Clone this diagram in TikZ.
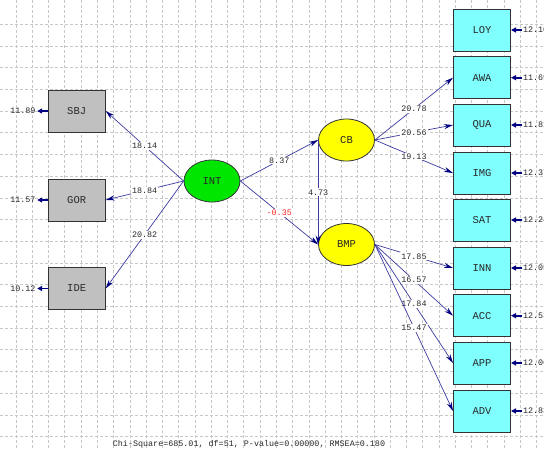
\documentclass[tikz,border=0pt]{standalone}
\usepackage{fontspec}
\setmonofont{Liberation Mono}
\usetikzlibrary{arrows.meta,shapes.geometric}
\definecolor{gridc}{RGB}{200,200,200}
\definecolor{boxgray}{RGB}{192,192,192}
\definecolor{boxcyan}{RGB}{128,255,255}
\definecolor{ellgreen}{RGB}{0,230,0}
\definecolor{ellyellow}{RGB}{255,255,0}
\definecolor{pathc}{RGB}{60,60,160}
\definecolor{tipc}{RGB}{0,0,128}
\definecolor{labc}{RGB}{40,40,40}
\definecolor{negc}{RGB}{255,40,40}
\begin{document}
\begin{tikzpicture}[x=1pt,y=-1pt,
  obs/.style={draw=black!80, line width=1pt, minimum width=57pt, minimum height=42pt, inner sep=0pt, text=labc, font=\ttfamily\fontsize{10.5}{12}\selectfont},
  xobs/.style={obs, fill=boxgray},
  yobs/.style={obs, fill=boxcyan},
  lat/.style={ellipse, draw=black!80, line width=0.8pt, minimum width=56pt, minimum height=42pt, inner sep=0pt, text=labc, font=\ttfamily\fontsize{10.5}{12}\selectfont},
  conn/.style={draw=pathc, line width=0.7pt, -{Stealth[length=9pt,width=5pt,color=tipc]}},
  coef/.style={midway, fill=white, inner sep=1pt, text=labc, font=\ttfamily\fontsize{8.4}{9}\selectfont},
  err/.style={draw=tipc, line width=1.6pt, -{Triangle[length=5pt,width=5pt]}},
  errlab/.style={inner sep=0pt, text=labc, font=\ttfamily\fontsize{8.4}{9}\selectfont},
  gridline/.style={draw=gridc, line width=0.7pt, dash pattern=on 3pt off 2pt}
]
\useasboundingbox (0,0) rectangle (544,450);
\clip (0,0) rectangle (544,450);
\fill[white] (0,0) rectangle (544,450);
% grid
\foreach \k in {0,...,32} \draw[gridline] ({16+16.27*\k},0) -- ({16+16.27*\k},450);
\foreach \k in {0,...,19} \draw[gridline] (0,{24.3+21.7*\k}) -- (544,{24.3+21.7*\k});

% left observed
\node[xobs] (SBJ) at (76.7,111) {SBJ};
\node[xobs] (GOR) at (76.7,200) {GOR};
\node[xobs] (IDE) at (76.7,288.5) {IDE};
% right observed
\node[yobs] (LOY) at (482,30) {LOY};
\node[yobs] (AWA) at (482,77.7) {AWA};
\node[yobs] (QUA) at (482,125) {QUA};
\node[yobs] (IMG) at (482,173) {IMG};
\node[yobs] (SAT) at (482,220) {SAT};
\node[yobs] (INN) at (482,268) {INN};
\node[yobs] (ACC) at (482,315.7) {ACC};
\node[yobs] (APP) at (482,363) {APP};
\node[yobs] (ADV) at (482,411) {ADV};
% latent
\node[lat, fill=ellgreen] (INT) at (212,181) {INT};
\node[lat, fill=ellyellow] (CB) at (346.5,140) {CB};
\node[lat, fill=ellyellow] (BMP) at (346.5,244.5) {BMP};

% structural / measurement paths
\draw[conn] (INT.west) -- (SBJ.east) node[coef] {18.14};
\draw[conn] (INT.west) -- (GOR.east) node[coef] {18.84};
\draw[conn] (INT.west) -- (IDE.east) node[coef] {20.82};
\draw[conn] (INT.east) -- (CB.west) node[coef] {8.37};
\draw[conn] (INT.east) -- (BMP.west) node[coef, text=negc] {-0.35};
\draw[conn] (CB.west) -- (BMP.west) node[coef] {4.73};
\draw[conn] (CB.east) -- (AWA.west) node[coef] {20.78};
\draw[conn] (CB.east) -- (QUA.west) node[coef] {20.56};
\draw[conn] (CB.east) -- (IMG.west) node[coef] {19.13};
\draw[conn] (BMP.east) -- (INN.west) node[coef] {17.85};
\draw[conn] (BMP.east) -- (ACC.west) node[coef] {16.57};
\draw[conn] (BMP.east) -- (APP.west) node[coef] {17.84};
\draw[conn] (BMP.east) -- (ADV.west) node[coef] {15.47};

% error terms left
\foreach \n/\v in {SBJ/11.89, GOR/11.57, IDE/10.12}{
  \coordinate (e\n) at ([xshift=-10.5pt]\n.west);
  \draw[err] (\n.west) -- (e\n);
  \node[errlab, anchor=east] (l\n) at ([xshift=-1.5pt]e\n) {\v};
}
% error terms right
\foreach \n/\v in {LOY/12.10, AWA/11.69, QUA/11.81, IMG/12.37, SAT/12.24, INN/12.05, ACC/12.53, APP/12.06, ADV/12.83}{
  \coordinate (e\n) at ([xshift=11pt]\n.east);
  \draw[err] (e\n) -- (\n.east);
  \node[errlab, anchor=west] (l\n) at ([xshift=0.8pt]e\n) {\v};
}

\node[errlab] (fit) at (249,444) {Chi-Square=685.01, df=51, P-value=0.00000, RMSEA=0.180};
\end{tikzpicture}
\end{document}
